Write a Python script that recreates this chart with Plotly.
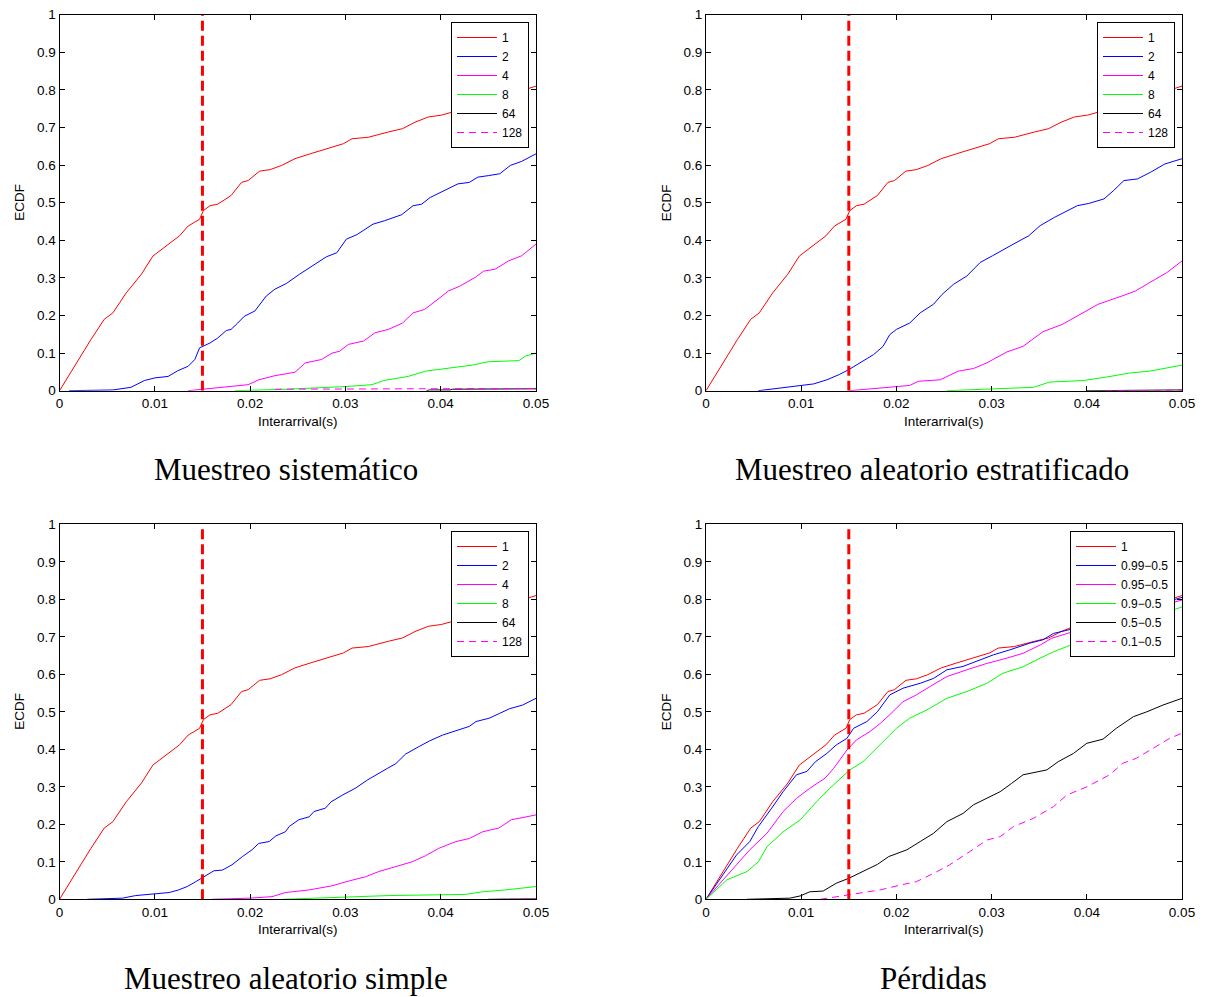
import plotly.graph_objects as go

# ---------------- data ----------------
# baseline curve "1" (same in every panel)
x_1 = [0, 0.0025, 0.0033, 0.0047, 0.0056, 0.007, 0.008, 0.0086, 0.0098, 0.0107, 0.0116, 0.0126, 0.0135,
       0.0147, 0.0151, 0.0158, 0.0166, 0.018, 0.0191, 0.0198, 0.021, 0.0221, 0.0233, 0.0247, 0.0263, 0.0275,
       0.0286, 0.0298, 0.0307, 0.0324, 0.0345, 0.036, 0.0373, 0.0387, 0.0401, 0.0425, 0.045, 0.0475, 0.05]
y_1 = [0, 0.105, 0.136, 0.19, 0.207, 0.26, 0.29, 0.31, 0.358, 0.376, 0.394, 0.412, 0.438,
       0.456, 0.479, 0.492, 0.496, 0.519, 0.554, 0.559, 0.584, 0.588, 0.599, 0.617, 0.63, 0.639,
       0.648, 0.657, 0.67, 0.674, 0.688, 0.697, 0.714, 0.728, 0.733, 0.75, 0.77, 0.79, 0.81]

# Panel A: Muestreo sistemático
xa_2 = [0.001, 0.0056, 0.0075, 0.0089, 0.01, 0.0114, 0.0124, 0.0135, 0.0142, 0.0147, 0.0158, 0.0166, 0.0175,
        0.018, 0.0187, 0.0194, 0.0205, 0.0217, 0.0226, 0.0238, 0.0252, 0.0268, 0.028, 0.0291, 0.0301, 0.0312,
        0.0329, 0.0341, 0.0359, 0.0371, 0.038, 0.0389, 0.0406, 0.0418, 0.043, 0.0439, 0.045, 0.0462, 0.0473,
        0.0485, 0.05]
ya_2 = [0, 0.002, 0.009, 0.027, 0.034, 0.038, 0.053, 0.065, 0.083, 0.114, 0.127, 0.14, 0.16,
        0.163, 0.18, 0.198, 0.212, 0.252, 0.27, 0.285, 0.31, 0.336, 0.356, 0.367, 0.403, 0.415,
        0.443, 0.452, 0.468, 0.492, 0.496, 0.514, 0.534, 0.55, 0.554, 0.568, 0.572, 0.577, 0.599,
        0.61, 0.63]
xa_4 = [0.0135, 0.0152, 0.018, 0.0198, 0.0209, 0.0226, 0.0247, 0.0258, 0.0275, 0.0286, 0.0294, 0.0303, 0.0319,
        0.0331, 0.0345, 0.036, 0.0371, 0.0383, 0.0399, 0.0408, 0.042, 0.0436, 0.0445, 0.0457, 0.0471, 0.0485, 0.05]
ya_4 = [0, 0.004, 0.011, 0.016, 0.029, 0.04, 0.049, 0.074, 0.083, 0.1, 0.105, 0.123, 0.132,
        0.154, 0.163, 0.18, 0.207, 0.216, 0.247, 0.265, 0.278, 0.301, 0.318, 0.323, 0.345, 0.359, 0.39]
xa_8 = [0.0184, 0.024, 0.03, 0.0328, 0.034, 0.0366, 0.0384, 0.0408, 0.0433, 0.045, 0.0482, 0.0489, 0.05]
ya_8 = [0, 0.004, 0.011, 0.016, 0.027, 0.038, 0.052, 0.059, 0.068, 0.077, 0.08, 0.092, 0.1]
xa_64 = [0.0385, 0.0388, 0.041, 0.0412, 0.05]
ya_64 = [0, 0.002, 0.002, 0.004, 0.005]
xa_128 = [0.0226, 0.03, 0.04, 0.05]
ya_128 = [0.004, 0.005, 0.006, 0.006]

# Panel B: Muestreo aleatorio estratificado
xb_2 = [0.0055, 0.0085, 0.0099, 0.0113, 0.0127, 0.014, 0.015, 0.0165, 0.0176, 0.0186, 0.0193, 0.02, 0.0214,
        0.0225, 0.0239, 0.0248, 0.026, 0.0274, 0.0288, 0.0301, 0.0311, 0.0323, 0.0339, 0.0351, 0.0366, 0.0376,
        0.039, 0.0402, 0.0418, 0.0428, 0.0439, 0.0453, 0.0467, 0.0482, 0.05]
yb_2 = [0, 0.009, 0.014, 0.018, 0.029, 0.043, 0.056, 0.078, 0.096, 0.118, 0.149, 0.163, 0.18,
        0.207, 0.23, 0.256, 0.283, 0.305, 0.341, 0.359, 0.374, 0.39, 0.412, 0.439, 0.461, 0.474,
        0.492, 0.498, 0.51, 0.532, 0.559, 0.563, 0.581, 0.603, 0.617]
xb_4 = [0.0151, 0.019, 0.0214, 0.0223, 0.0246, 0.0265, 0.0281, 0.0295, 0.0316, 0.0333, 0.0354, 0.0374, 0.039,
        0.0412, 0.0437, 0.0451, 0.0463, 0.0484, 0.05]
yb_4 = [0, 0.009, 0.014, 0.025, 0.029, 0.052, 0.059, 0.074, 0.103, 0.118, 0.157, 0.176, 0.198,
        0.23, 0.252, 0.265, 0.283, 0.314, 0.345]
xb_8 = [0.0253, 0.0302, 0.0344, 0.0361, 0.0396, 0.042, 0.0445, 0.0466, 0.05]
yb_8 = [0, 0.004, 0.009, 0.023, 0.027, 0.036, 0.047, 0.052, 0.068]
xb_64 = [0.04, 0.045, 0.05]
yb_64 = [0, 0.001, 0.002]
xb_128 = [0.042, 0.05]
yb_128 = [0, 0.001]

# Panel C: Muestreo aleatorio simple
xc_2 = [0.0029, 0.0066, 0.008, 0.0094, 0.0115, 0.0125, 0.0134, 0.0143, 0.0151, 0.0162, 0.0171, 0.0181, 0.0192,
        0.0202, 0.0209, 0.022, 0.0227, 0.0237, 0.0241, 0.0251, 0.0262, 0.0267, 0.0279, 0.0285, 0.0297, 0.0311,
        0.0323, 0.0332, 0.0344, 0.0353, 0.0363, 0.0377, 0.0388, 0.0402, 0.0414, 0.043, 0.0437, 0.0451, 0.0462,
        0.0472, 0.0486, 0.05]
yc_2 = [0, 0.003, 0.01, 0.014, 0.018, 0.025, 0.034, 0.047, 0.06, 0.076, 0.078, 0.092, 0.114,
        0.132, 0.149, 0.154, 0.169, 0.18, 0.194, 0.212, 0.22, 0.234, 0.243, 0.26, 0.278, 0.297,
        0.318, 0.332, 0.349, 0.362, 0.387, 0.407, 0.422, 0.438, 0.447, 0.461, 0.474, 0.483, 0.496,
        0.508, 0.518, 0.536]
xc_4 = [0.016, 0.0199, 0.0223, 0.0237, 0.0262, 0.0286, 0.0304, 0.0321, 0.0335, 0.0356, 0.037, 0.0384, 0.0398,
        0.0416, 0.043, 0.0444, 0.0461, 0.0474, 0.0486, 0.05]
yc_4 = [0, 0.003, 0.007, 0.018, 0.025, 0.036, 0.049, 0.06, 0.074, 0.09, 0.1, 0.116, 0.136,
        0.154, 0.162, 0.18, 0.19, 0.212, 0.218, 0.225]
xc_8 = [0.0234, 0.03, 0.0346, 0.0426, 0.0444, 0.0468, 0.0486, 0.05]
yc_8 = [0, 0.007, 0.01, 0.013, 0.02, 0.025, 0.029, 0.034]
xc_64 = [0.045, 0.05]
yc_64 = [0, 0.001]
xc_128 = [0.046, 0.05]
yc_128 = [0, 0.001]

# Panel D: Pérdidas
xd_099 = [0, 0.0022, 0.0032, 0.0046, 0.0055, 0.0069, 0.0081, 0.0095, 0.0106, 0.0115, 0.0127, 0.0137, 0.0148,
          0.0155, 0.0169, 0.018, 0.0193, 0.0207, 0.0225, 0.0239, 0.0253, 0.027, 0.0284, 0.0302, 0.0319, 0.034,
          0.0354, 0.0365, 0.04, 0.045, 0.05]
yd_099 = [0, 0.083, 0.118, 0.154, 0.194, 0.243, 0.287, 0.332, 0.341, 0.367, 0.389, 0.412, 0.429,
          0.456, 0.474, 0.5, 0.545, 0.563, 0.576, 0.589, 0.612, 0.621, 0.634, 0.652, 0.665, 0.683,
          0.692, 0.709, 0.73, 0.77, 0.805]
xd_095 = [0, 0.0022, 0.0032, 0.0046, 0.0064, 0.0081, 0.0095, 0.0109, 0.0125, 0.0134, 0.0148, 0.0158, 0.0172,
          0.0183, 0.0193, 0.0207, 0.0221, 0.0235, 0.0253, 0.0274, 0.0295, 0.0316, 0.0333, 0.0351, 0.0363,
          0.04, 0.045, 0.05]
yd_095 = [0, 0.065, 0.092, 0.132, 0.176, 0.234, 0.269, 0.296, 0.323, 0.349, 0.398, 0.425, 0.447,
          0.469, 0.492, 0.527, 0.545, 0.567, 0.594, 0.612, 0.629, 0.643, 0.656, 0.678, 0.696,
          0.725, 0.765, 0.798]
xd_09 = [0, 0.0011, 0.0022, 0.0043, 0.0055, 0.0064, 0.0081, 0.0099, 0.0116, 0.013, 0.0148, 0.0151, 0.0165,
         0.0176, 0.0193, 0.02, 0.0214, 0.0232, 0.0253, 0.0274, 0.0295, 0.0312, 0.0333, 0.0351, 0.0365, 0.0379,
         0.0393, 0.0414, 0.0449, 0.05]
yd_09 = [0, 0.025, 0.052, 0.074, 0.1, 0.14, 0.18, 0.212, 0.26, 0.296, 0.336, 0.345, 0.367,
         0.394, 0.438, 0.456, 0.483, 0.505, 0.536, 0.554, 0.576, 0.603, 0.62, 0.643, 0.66, 0.674,
         0.687, 0.705, 0.732, 0.78]
xd_05 = [0.0043, 0.0088, 0.0099, 0.0109, 0.0123, 0.0137, 0.015, 0.0165, 0.018, 0.0192, 0.0211, 0.0225, 0.0239,
         0.0253, 0.027, 0.0281, 0.0295, 0.0309, 0.0321, 0.0333, 0.0358, 0.037, 0.0386, 0.04, 0.0417, 0.0431,
         0.0449, 0.0463, 0.048, 0.05]
yd_05 = [0, 0.003, 0.009, 0.02, 0.022, 0.043, 0.056, 0.074, 0.093, 0.114, 0.132, 0.154, 0.176,
         0.207, 0.229, 0.252, 0.269, 0.287, 0.309, 0.332, 0.345, 0.367, 0.389, 0.416, 0.427, 0.456,
         0.487, 0.5, 0.518, 0.536]
xd_01 = [0.012, 0.0151, 0.0183, 0.0204, 0.0221, 0.0239, 0.0256, 0.0277, 0.0295, 0.0309, 0.0323, 0.0344, 0.0365,
         0.0379, 0.04, 0.0424, 0.0438, 0.0452, 0.047, 0.0487, 0.05]
yd_01 = [0, 0.012, 0.025, 0.038, 0.047, 0.069, 0.092, 0.127, 0.158, 0.167, 0.194, 0.216, 0.247,
         0.278, 0.3, 0.332, 0.363, 0.376, 0.403, 0.429, 0.443]

titles = ["Muestreo sistemático", "Muestreo aleatorio estratificado",
          "Muestreo aleatorio simple", "Pérdidas"]
labels_abc = ["1", "2", "4", "8", "64", "128"]
labels_d = ["1", "0.99\u22120.5", "0.95\u22120.5", "0.9\u22120.5", "0.5\u22120.5", "0.1\u22120.5"]
x_ticks = [0, 0.01, 0.02, 0.03, 0.04, 0.05]
x_ticktext = ["0", "0.01", "0.02", "0.03", "0.04", "0.05"]
y_ticks = [0, 0.1, 0.2, 0.3, 0.4, 0.5, 0.6, 0.7, 0.8, 0.9, 1]
y_ticktext = ["0", "0.1", "0.2", "0.3", "0.4", "0.5", "0.6", "0.7", "0.8", "0.9", "1"]
threshold = 0.015

# ---------------- figure ----------------
OFF = 8  # page body margin: the plot div starts 8px from the window corner
W, H = 1208 - OFF, 997 - OFF
colors = ["#FF0000", "#0000FF", "#FF00FF", "#00FF00", "#000000", "#FF00FF"]
dashes = ["solid", "solid", "solid", "solid", "solid", "7px,5px"]

panels = [
    [(x_1, y_1), (xa_2, ya_2), (xa_4, ya_4), (xa_8, ya_8), (xa_64, ya_64), (xa_128, ya_128)],
    [(x_1, y_1), (xb_2, yb_2), (xb_4, yb_4), (xb_8, yb_8), (xb_64, yb_64), (xb_128, yb_128)],
    [(x_1, y_1), (xc_2, yc_2), (xc_4, yc_4), (xc_8, yc_8), (xc_64, yc_64), (xc_128, yc_128)],
    [(x_1, y_1), (xd_099, yd_099), (xd_095, yd_095), (xd_09, yd_09), (xd_05, yd_05), (xd_01, yd_01)],
]
panel_labels = [labels_abc, labels_abc, labels_abc, labels_d]

# window-pixel geometry of the four axes boxes (left, right, top, bottom)
boxes = [(59.5, 536, 14.7, 390.7), (706, 1182, 14.7, 390.7),
         (59.5, 536, 524.3, 899.3), (706, 1182, 524.3, 899.3)]
legend_pos = [(529, 22), (1175, 22), (529, 531), (1175, 531)]
title_pos = [(286, 469), (932, 469), (286, 978), (933, 978)]


def px(v):
    return (v - OFF) / W


def py(v):
    return 1 - (v - OFF) / H


fig = go.Figure()
layout = dict(width=W, height=H, margin=dict(l=0, r=0, t=0, b=0, autoexpand=False),
              paper_bgcolor="white", plot_bgcolor="white",
              font=dict(family="Liberation Sans, Arial, sans-serif", color="black", size=13),
              annotations=[])

for i, (series, labels) in enumerate(zip(panels, panel_labels)):
    n = "" if i == 0 else str(i + 1)
    xa, ya = "x" + n, "y" + n
    lg = "legend" + n
    for (xs, ys), lab, c, d in zip(series, labels, colors, dashes):
        fig.add_trace(go.Scatter(x=xs, y=ys, mode="lines", name=lab, xaxis=xa, yaxis=ya,
                                 legend=lg, line=dict(color=c, width=1, dash=d)))
    fig.add_trace(go.Scatter(x=[threshold, threshold], y=[0, 1], mode="lines", showlegend=False,
                             xaxis=xa, yaxis=ya, line=dict(color="#FF0000", width=3, dash="10px,5px")))
    l, r, t, b = boxes[i]
    axis_common = dict(showline=True, linecolor="black", linewidth=1, mirror="allticks",
                       ticks="inside", ticklen=5, tickcolor="black", showgrid=False, zeroline=False,
                       automargin=False, ticklabeloverflow="allow",
                       tickfont=dict(size=13.5, family="Liberation Sans, Arial, sans-serif"))
    layout["xaxis" + n] = dict(domain=[px(l), px(r)], range=[0, 0.05], anchor=ya,
                               tickvals=x_ticks, ticktext=x_ticktext, **axis_common)
    layout["yaxis" + n] = dict(domain=[py(b), py(t)], range=[0, 1], anchor=xa,
                               tickvals=y_ticks, ticktext=y_ticktext, **axis_common)
    lx, ly = legend_pos[i]
    layout[lg] = dict(x=px(lx), y=py(ly), xanchor="right", yanchor="top",
                      bgcolor="white", bordercolor="black", borderwidth=1,
                      font=dict(size=12, family="Liberation Sans, Arial, sans-serif"),
                      itemwidth=40, tracegroupgap=0)
    # axis titles
    layout["annotations"].append(dict(text="Interarrival(s)", x=px((l + r) / 2), y=py(b + 30.5),
                                      xref="paper", yref="paper", showarrow=False,
                                      font=dict(size=13.5), xanchor="center", yanchor="middle"))
    layout["annotations"].append(dict(text="ECDF", x=px(l - 39.5), y=py((t + b) / 2),
                                      xref="paper", yref="paper", showarrow=False, textangle=-90,
                                      font=dict(size=13.5), xanchor="center", yanchor="middle"))
    tx, ty = title_pos[i]
    layout["annotations"].append(dict(text=titles[i], x=px(tx), y=py(ty), xref="paper", yref="paper",
                                      showarrow=False, xanchor="center", yanchor="middle",
                                      font=dict(size=31, family="Liberation Serif, serif")))

fig.update_layout(**layout)
fig.write_html("out.html")
